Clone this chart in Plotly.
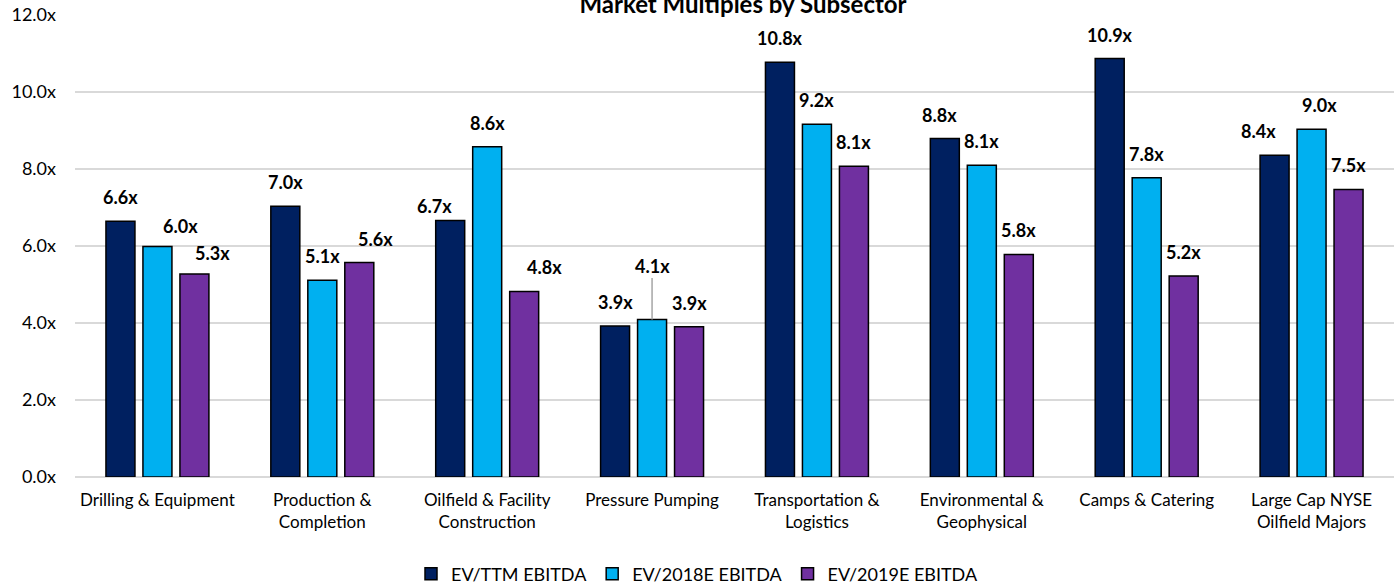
import plotly.graph_objects as go

categories = ["Drilling & Equipment", "Production &<br>Completion", "Oilfield & Facility<br>Construction",
              "Pressure Pumping", "Transportation &<br>Logistics", "Environmental &<br>Geophysical",
              "Camps & Catering", "Large Cap NYSE<br>Oilfield Majors"]
series_names = ["EV/TTM EBITDA", "EV/2018E EBITDA", "EV/2019E EBITDA"]
ev_ttm = [6.64, 7.03, 6.66, 3.92, 10.77, 8.79, 10.87, 8.36]
ev_2018 = [5.99, 5.11, 8.58, 4.09, 9.16, 8.10, 7.77, 9.03]
ev_2019 = [5.27, 5.57, 4.82, 3.90, 8.07, 5.78, 5.22, 7.47]
tick_vals = [0, 2, 4, 6, 8, 10, 12]
tick_text = [f"{v:.1f}x" for v in tick_vals]

colors = ["#002060", "#00B0F0", "#7030A0"]
series = [ev_ttm, ev_2018, ev_2019]

# label placement tweaks (pixel offsets, styling only): (series index, category index) -> (dx, dy)
label_tweaks = {(1, 0): (23, -4), (2, 0): (18, -3), (2, 1): (16, 0), (0, 2): (-16, -9),
                (2, 2): (20, 0), (0, 5): (-5, 0), (0, 7): (-16, 0), (1, 7): (8, 0)}
leader_labels = {(1, 3)}

font_family = "Lato, 'Open Sans', sans-serif"

fig = go.Figure()
for name, vals, col in zip(series_names, series, colors):
    fig.add_trace(go.Bar(name=name, x=categories, y=vals,
                         marker=dict(color=col, line=dict(color="#000000", width=1.5))))

slot = 37
for si, vals in enumerate(series):
    for ci, v in enumerate(vals):
        dx, dy = label_tweaks.get((si, ci), (0, 0))
        txt = f"<b>{v:.1f}x</b>"
        if (si, ci) in leader_labels:
            fig.add_annotation(x=categories[ci], y=v, xshift=(si - 1) * slot, text=txt, showarrow=True,
                               arrowhead=0, arrowcolor="#A6A6A6", arrowwidth=1.5, ax=0, ay=-54, standoff=0,
                               font=dict(size=18, color="#000000", family=font_family))
        else:
            fig.add_annotation(x=categories[ci], y=v, xshift=(si - 1) * slot + dx, yshift=24 + dy, text=txt,
                               showarrow=False, yanchor="middle",
                               font=dict(size=18, color="#000000", family=font_family))

fig.update_layout(
    width=1394, height=587,
    margin=dict(l=75, r=0, t=15, b=110),
    barmode="group", bargap=0.327, bargroupgap=0.216,
    plot_bgcolor="white", paper_bgcolor="white",
    font=dict(family=font_family, color="#000000"),
    title=dict(text="<b>Market Multiples by Subsector</b>", x=0.533, xanchor="center",
               y=0.993, yref="container", yanchor="middle", font=dict(size=24, color="#000000")),
    legend=dict(orientation="h", xref="container", x=0.5, xanchor="center", yref="container", y=0.022,
                yanchor="middle", font=dict(size=18), traceorder="normal", itemwidth=30),
    showlegend=True,
)
fig.update_yaxes(range=[0, 12], tickvals=tick_vals, ticktext=tick_text,
                 showgrid=True, gridcolor="#D9D9D9", gridwidth=1.5, zeroline=True, zerolinecolor="#D9D9D9",
                 zerolinewidth=1.5, tickfont=dict(size=18), ticks="", ticklabelstandoff=18)
fig.update_xaxes(tickfont=dict(size=17), showline=False, ticks="", ticklabelstandoff=11)

fig.write_html("out.html", config={"displayModeBar": False},
               post_script="document.body.style.margin='0';")
